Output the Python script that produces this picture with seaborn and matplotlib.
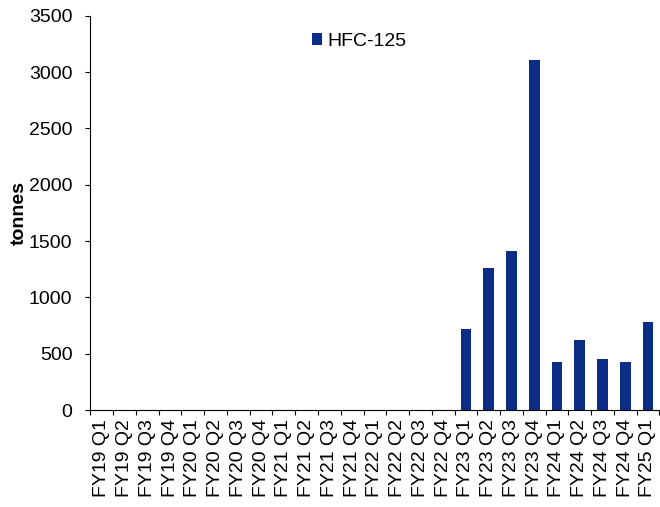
import matplotlib
matplotlib.use("Agg")
import matplotlib.pyplot as plt
from matplotlib.patches import Patch
import numpy as np
import pandas as pd
import seaborn as sns

quarters = [
    "FY19 Q1", "FY19 Q2", "FY19 Q3", "FY19 Q4",
    "FY20 Q1", "FY20 Q2", "FY20 Q3", "FY20 Q4",
    "FY21 Q1", "FY21 Q2", "FY21 Q3", "FY21 Q4",
    "FY22 Q1", "FY22 Q2", "FY22 Q3", "FY22 Q4",
    "FY23 Q1", "FY23 Q2", "FY23 Q3", "FY23 Q4",
    "FY24 Q1", "FY24 Q2", "FY24 Q3", "FY24 Q4",
    "FY25 Q1",
]
hfc125 = [0, 0, 0, 0, 0, 0, 0, 0, 0, 0, 0, 0, 0, 0, 0, 0,
          720, 1260, 1412, 3108, 426, 622, 453, 426, 782]
y_ticks = [0, 500, 1000, 1500, 2000, 2500, 3000, 3500]
series_name = "HFC-125"

df = pd.DataFrame({"quarter": quarters, "tonnes": hfc125})

sns.set_theme(style="white")
plt.rcParams["font.family"] = ["Liberation Sans", "DejaVu Sans"]
plt.rcParams["text.color"] = "black"
plt.rcParams["axes.labelcolor"] = "black"
plt.rcParams["xtick.color"] = "black"
plt.rcParams["ytick.color"] = "black"

bar_color = "#0B2D86"
fs = 14

fig = plt.figure(figsize=(6.6, 5.07), dpi=100)
ax = fig.add_axes([0.137, 0.191, 0.862, 0.778])

sns.barplot(data=df, x="quarter", y="tonnes", color=bar_color,
            width=0.47, saturation=1, linewidth=0, ax=ax)

ax.set_xlim(-0.5, len(quarters) - 0.5)
ax.set_ylim(0, 3500)
ax.set_yticks(y_ticks)
ax.set_yticklabels([str(v) for v in y_ticks], fontsize=fs)
ax.set_xticks(range(len(quarters)))
ax.set_xticklabels(quarters, rotation=90, fontsize=fs)
ax.set_xticks(np.arange(-0.5, len(quarters), 1), minor=True)
ax.tick_params(axis="x", which="major", length=0, pad=6.5)
ax.tick_params(axis="x", which="minor", length=3.6, width=0.8, color="black",
               direction="out", bottom=True)
ax.tick_params(axis="y", which="major", length=3.6, width=0.8, color="black",
               direction="out", left=True, pad=9.4)

ax.set_xlabel("")
ax.set_ylabel("tonnes", fontsize=fs, fontweight="bold")
ax.yaxis.set_label_coords(-0.111, 0.5)

for side in ["top", "right"]:
    ax.spines[side].set_visible(False)
for side in ["left", "bottom"]:
    ax.spines[side].set_color("black")
    ax.spines[side].set_linewidth(0.8)

handle = Patch(facecolor=bar_color, edgecolor="none")
fig.legend([handle], [series_name], loc="center", bbox_to_anchor=(0.544, 0.919),
           frameon=False, fontsize=fs, handlelength=0.55, handleheight=0.55,
           handletextpad=0.25)

fig.savefig("out.png", dpi=100)
